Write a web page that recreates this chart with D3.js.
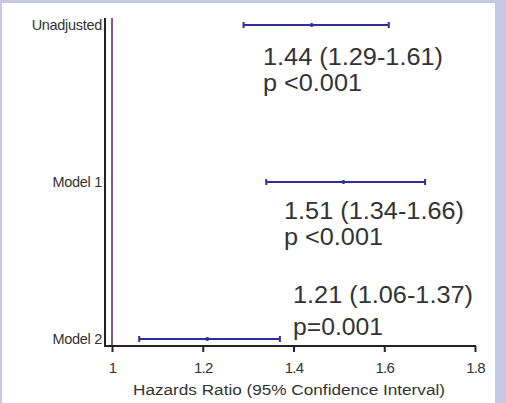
<!DOCTYPE html>
<html>
<head>
<meta charset="utf-8">
<script src="https://cdn.jsdelivr.net/npm/d3@7"></script>
<style>
  html, body { margin: 0; padding: 0; background: #c9c7e6; }
  svg { display: block; }
  text { font-family: "Liberation Sans", Arial, sans-serif; fill: #333; }
</style>
</head>
<body>
<div id="chart"></div>
<script>
const width = 506, height = 403;

// data
const models = ["Unadjusted", "Model 1", "Model 2"];
const estimates = [1.44, 1.51, 1.21];
const lower = [1.29, 1.34, 1.06];
const upper = [1.61, 1.69, 1.37];
const estLabels = ["1.44 (1.29-1.61)", "1.51 (1.34-1.66)", "1.21 (1.06-1.37)"];
const pLabels = ["p <0.001", "p <0.001", "p=0.001"];
const xTicks = [1, 1.2, 1.4, 1.6, 1.8];

const svg = d3.select("#chart")
    .append("svg")
    .attr("width", width)
    .attr("height", height);

// white panel inside the lavender frame
svg.append("rect")
    .attr("x", 2).attr("y", 3)
    .attr("width", 493).attr("height", height - 3)
    .attr("fill", "#fff");

const xScale = d3.scaleLinear()
    .domain([1, 1.8])
    .range([112, 475]);

const yScale = d3.scalePoint()
    .domain(models)
    .range([25, 339]);

const axisY = 346, axisX = 105, topY = 18;

// reference line at HR = 1
svg.append("line")
    .attr("x1", xScale(1)).attr("x2", xScale(1))
    .attr("y1", topY).attr("y2", axisY)
    .attr("stroke", "#8b5592")
    .attr("stroke-width", 2);

// x axis
const bottomAxis = d3.axisBottom(xScale)
    .tickValues(xTicks)
    .tickFormat(d => d3.format("")(d))
    .tickSize(6)
    .tickSizeOuter(0);

const gx = svg.append("g")
    .attr("transform", `translate(0, ${axisY})`)
    .call(bottomAxis);
gx.select(".domain").remove();
gx.selectAll(".tick line").attr("stroke", "#222").attr("stroke-width", 2);
gx.selectAll(".tick text")
    .attr("y", 16)
    .attr("dy", "0.71em")
    .style("font-size", "15px")
    .style("letter-spacing", "-0.8px")
    .attr("fill", "#444");
gx.append("line")
    .attr("x1", axisX).attr("x2", xScale(1.8) + 1)
    .attr("y1", 0).attr("y2", 0)
    .attr("stroke", "#222")
    .attr("stroke-width", 2);

// y axis
const gy = svg.append("g")
    .attr("transform", `translate(${axisX}, 0)`)
    .call(d3.axisLeft(yScale).tickSize(0).tickPadding(3));
gy.select(".domain").remove();
gy.append("line")
    .attr("x1", 0).attr("x2", 0)
    .attr("y1", topY).attr("y2", axisY + 1)
    .attr("stroke", "#222")
    .attr("stroke-width", 2);
gy.selectAll(".tick text")
    .style("font-size", "14.5px")
    .style("letter-spacing", "-0.3px")
    .attr("fill", "#333");

// confidence intervals
const rows = models.map((m, i) => ({
    model: m, est: estimates[i], lo: lower[i], hi: upper[i],
    label: estLabels[i], p: pLabels[i]
}));

const ci = svg.append("g").selectAll("g")
    .data(rows)
    .join("g")
    .attr("transform", d => `translate(0, ${yScale(d.model)})`);

ci.append("line")
    .attr("x1", d => xScale(d.lo)).attr("x2", d => xScale(d.hi))
    .attr("stroke", "#2e2f9a").attr("stroke-width", 2);
ci.append("line")
    .attr("x1", d => xScale(d.lo)).attr("x2", d => xScale(d.lo))
    .attr("y1", -3).attr("y2", 3)
    .attr("stroke", "#2e2f9a").attr("stroke-width", 2);
ci.append("line")
    .attr("x1", d => xScale(d.hi)).attr("x2", d => xScale(d.hi))
    .attr("y1", -3).attr("y2", 3)
    .attr("stroke", "#2e2f9a").attr("stroke-width", 2);
ci.append("circle")
    .attr("cx", d => xScale(d.est))
    .attr("r", 2)
    .attr("fill", "#2e2f9a");

// annotations
const labelPos = [
    {x: 263, y1: 65, y2: 91, w2: 99},
    {x: 284, y1: 219, y2: 245, w2: 99},
    {x: 293, y1: 303, y2: 335, w2: 90}
];
rows.forEach((d, i) => {
    svg.append("text")
        .attr("x", labelPos[i].x).attr("y", labelPos[i].y1)
        .attr("textLength", 180)
        .attr("lengthAdjust", "spacingAndGlyphs")
        .style("font-size", "23px")
        .attr("fill", "#333")
        .text(d.label);
    svg.append("text")
        .attr("x", labelPos[i].x).attr("y", labelPos[i].y2)
        .attr("textLength", labelPos[i].w2)
        .attr("lengthAdjust", "spacingAndGlyphs")
        .style("font-size", "23px")
        .attr("fill", "#333")
        .text(d.p);
});

// axis title
svg.append("text")
    .attr("x", 133).attr("y", 395)
    .attr("textLength", 312)
    .attr("lengthAdjust", "spacingAndGlyphs")
    .style("font-size", "14px")
    .attr("fill", "#333")
    .text("Hazards Ratio (95% Confidence Interval)");
</script>
</body>
</html>
